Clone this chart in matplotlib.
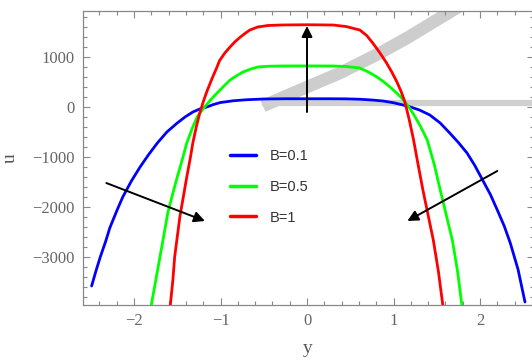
import matplotlib
matplotlib.use("Agg")
import matplotlib.pyplot as plt
from matplotlib.ticker import MultipleLocator, FuncFormatter
from matplotlib.lines import Line2D

# ---- data ----
y_b01 = [-2.49, -2.44, -2.39, -2.33, -2.28, -2.20, -2.13, -2.03, -1.93, -1.83, -1.73, -1.62,
         -1.50, -1.41, -1.32, -1.24, -1.16, -1.08, -1.00, -0.85, -0.70, -0.50, -0.25, 0.00,
         0.25, 0.45, 0.61, 0.75, 0.88, 1.00, 1.11, 1.17, 1.30, 1.42, 1.54, 1.65, 1.75, 1.85,
         1.94, 2.03, 2.12, 2.20, 2.28, 2.35, 2.44, 2.52]
u_b01 = [-3580, -3280, -3000, -2700, -2420, -2080, -1800, -1480, -1200, -950, -720, -500,
         -320, -200, -100, -40, 0, 50, 90, 125, 145, 160, 165, 165,
         165, 163, 155, 140, 120, 85, 40, 15, -60, -160, -320, -520, -710, -920,
         -1170, -1460, -1750, -2060, -2380, -2720, -3250, -3900]

y_b05 = [-1.80, -1.75, -1.70, -1.65, -1.61, -1.55, -1.50, -1.44, -1.39, -1.33, -1.27, -1.22,
         -1.18, -1.11, -1.04, -0.96, -0.89, -0.81, -0.74, -0.65, -0.57, -0.45, -0.30, 0.00,
         0.30, 0.45, 0.61, 0.71, 0.81, 0.89, 0.96, 1.03, 1.10, 1.17, 1.23, 1.31, 1.39, 1.47,
         1.54, 1.61, 1.68, 1.74, 1.79]
u_b05 = [-3960, -3480, -3000, -2520, -2120, -1720, -1400, -1040, -720, -440, -200, -80,
         10, 150, 280, 420, 540, 630, 700, 760, 800, 815, 820, 822,
         820, 810, 780, 700, 600, 500, 400, 290, 170, 20, -140, -380, -660, -1140,
         -1660, -2160, -2660, -3280, -3960]

y_b1 = [-1.58, -1.55, -1.53, -1.50, -1.47, -1.43, -1.39, -1.35, -1.32, -1.28, -1.24, -1.20,
        -1.16, -1.13, -1.10, -1.05, -1.01, -0.95, -0.89, -0.83, -0.77, -0.71, -0.66, -0.57,
        -0.45, -0.30, 0.00, 0.30, 0.45, 0.61, 0.69, 0.76, 0.84, 0.92, 0.98, 1.04, 1.09, 1.13,
        1.18, 1.23, 1.28, 1.34, 1.40, 1.46, 1.52, 1.57]
u_b1 = [-3960, -3450, -3000, -2600, -2200, -1800, -1400, -1030, -720, -400, -120, 100,
        300, 430, 560, 760, 930, 1080, 1200, 1310, 1400, 1480, 1540, 1600,
        1630, 1640, 1645, 1640, 1610, 1540, 1430, 1280, 1090, 880, 700, 500, 300, 110,
        -240, -640, -1110, -1660, -2160, -2660, -3300, -3960]

labels = ["B=0.1", "B=0.5", "B=1"]
colors = ["#0000ff", "#00ff00", "#ff0000"]
x_ticks = [-2, -1, 0, 1, 2]
u_ticks = [-3000, -2000, -1000, 0, 1000]

# ---- figure ----
W, H = 532, 362
fig = plt.figure(figsize=(W / 100, H / 100), dpi=100)
L, R, T, B = 83, 534, 11, 305
ax = fig.add_axes([L / W, 1 - B / H, (R - L) / W, (B - T) / H])

def px2ax(px, py):
    return (px - L) / (R - L), (B - py) / (B - T)

# watermark-like gray shapes (background decoration)
arc_px = [(263, 106), (300, 90), (340, 73), (380, 53), (407, 38), (440, 18), (475, -3)]
ax_pts = [px2ax(a, b) for a, b in arc_px]
ax.add_line(Line2D([p[0] for p in ax_pts], [p[1] for p in ax_pts], transform=ax.transAxes,
                   color="#cdcdcd", lw=9, solid_capstyle="butt", solid_joinstyle="round",
                   zorder=0, clip_on=True))
h0 = px2ax(265, 103); h1 = px2ax(540, 103)
ax.add_line(Line2D([h0[0], h1[0]], [h0[1], h1[1]], transform=ax.transAxes,
                   color="#d0d0d0", lw=4.5, zorder=0, clip_on=True))

for xs, us, c, lab in zip([y_b01, y_b05, y_b1], [u_b01, u_b05, u_b1], colors, labels):
    ax.plot(xs, us, color=c, lw=2.0, label=lab, zorder=3, solid_capstyle="round",
            solid_joinstyle="round")

ax.set_xlim((L - 307) / 86.5, (R - 307) / 86.5)
ax.set_ylim((107 - B) * 20, (107 - T) * 20)

# arrows
ap = dict(arrowstyle="-|>", color="black", lw=1.4, mutation_scale=16, shrinkA=0, shrinkB=0)
ax.annotate("", xy=(-1.18, -2280), xytext=(-2.32, -1520), arrowprops=ap, zorder=4)
ax.annotate("", xy=(1.16, -2280), xytext=(2.20, -1280), arrowprops=ap, zorder=4)
ax.annotate("", xy=(0.0, 1620), xytext=(0.0, -100), arrowprops=ap, zorder=4)

# ticks
gray = "#888888"
ax.set_xticks(x_ticks)
ax.set_yticks(u_ticks)
ax.xaxis.set_minor_locator(MultipleLocator(0.2))
ax.yaxis.set_minor_locator(MultipleLocator(200))
fmt = FuncFormatter(lambda v, p: ("\u2212" if v < 0 else "") + f"{abs(int(round(v)))}")
ax.xaxis.set_major_formatter(fmt)
ax.yaxis.set_major_formatter(fmt)
ax.tick_params(which="both", direction="in", top=True, right=True, color=gray, width=0.8)
ax.tick_params(which="major", length=5, labelsize=12, labelcolor="#666666", pad=6)
ax.tick_params(which="minor", length=3)
for lab in ax.get_xticklabels() + ax.get_yticklabels():
    lab.set_family(["Liberation Serif", "DejaVu Serif"])
for s in ax.spines.values():
    s.set_color(gray)
    s.set_linewidth(0.9)

ax.set_xlabel("y", family=["Liberation Serif", "DejaVu Serif"], fontsize=14, color="#555555")
ax.set_ylabel("u", family=["Liberation Serif", "DejaVu Serif"], fontsize=14, color="#555555")
ax.xaxis.set_label_coords(*px2ax(308, 340))
ax.yaxis.set_label_coords(*px2ax(19, 158))

leg = ax.legend(loc="upper left", bbox_to_anchor=px2ax(230, 149), frameon=False,
                handlelength=1.8, handletextpad=0.95, labelspacing=1.15,
                prop={"family": ["Liberation Sans", "DejaVu Sans"], "size": 10.5},
                borderaxespad=0, borderpad=0)
for t in leg.get_texts():
    t.set_color("#333333")
for h in leg.get_lines():
    h.set_linewidth(2.5)

fig.savefig("out.png", dpi=100)
